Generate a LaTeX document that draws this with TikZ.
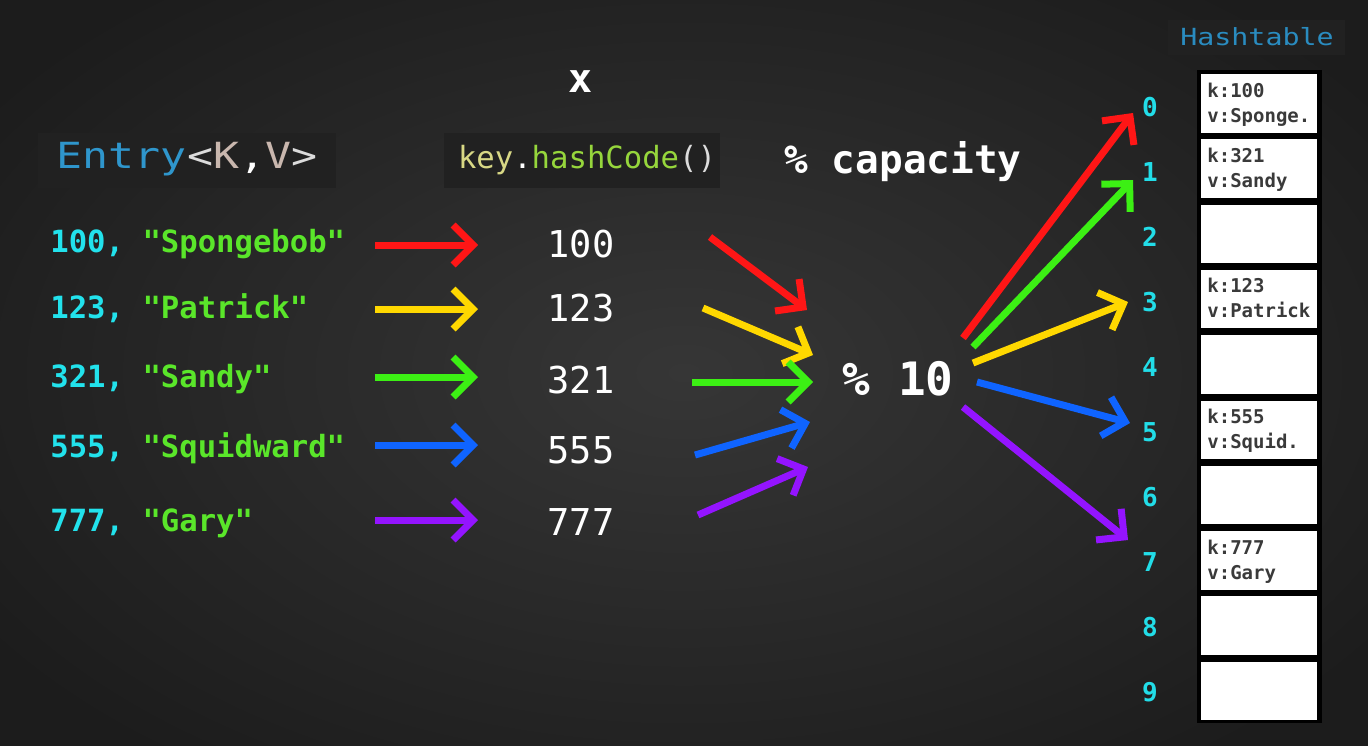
\documentclass[tikz,border=0pt]{standalone}
\usepackage{fontspec}
\usetikzlibrary{arrows.meta}
\newfontfamily\mono{DejaVu Sans Mono}
\newfontfamily\monowide[FakeStretch=1.2]{DejaVu Sans Mono}
\definecolor{bgin}{HTML}{363636}
\definecolor{bgout}{HTML}{1c1c1c}
\definecolor{boxbg}{HTML}{212121}
\definecolor{entryblue}{HTML}{2F96CC}
\definecolor{kvcol}{HTML}{C9B7AE}
\definecolor{brk}{HTML}{DCDCDC}
\definecolor{keyyel}{HTML}{D8D885}
\definecolor{hashgrn}{HTML}{96D63C}
\definecolor{keycyan}{HTML}{22E2EC}
\definecolor{strgrn}{HTML}{5AE62A}
\definecolor{idxcyan}{HTML}{22DDE8}
\definecolor{celltext}{HTML}{3A3A3A}
\definecolor{htblue}{HTML}{2A8CC0}
\definecolor{ared}{HTML}{FF1616}
\definecolor{ayel}{HTML}{FFD800}
\definecolor{agrn}{HTML}{3CF014}
\definecolor{ablu}{HTML}{0F64FF}
\definecolor{apur}{HTML}{9414FF}
\begin{document}
\begin{tikzpicture}[x=0.5pt,y=-0.5pt,
  arr/.style={line width=3.5pt,-{Straight Barb[sharp,length=10pt,width=20pt]}},
  rowtxt/.style={anchor=base west,inner sep=0pt,font=\mono\bfseries\fontsize{15.3}{18}\selectfont},
  numtxt/.style={anchor=base,inner sep=0pt,text=white,font=\mono\fontsize{18.5}{22}\selectfont},
  idxtxt/.style={anchor=base,inner sep=0pt,text=idxcyan,font=\mono\bfseries\fontsize{13}{15}\selectfont},
  cellbox/.style={fill=white,draw=none,minimum width=58pt,minimum height=29.25pt,inner sep=0pt},
  celltxt/.style={anchor=base west,inner sep=0pt,text=celltext,font=\mono\bfseries\fontsize{9.5}{11}\selectfont},
  codebox/.style={fill=boxbg,inner sep=0pt,minimum height=27.5pt}
]
\useasboundingbox (0,0) rectangle (1368,745);
\shade[inner color=bgin,outer color=bgout] (-150,-120) rectangle (1518,865);

% headers
\node[codebox,minimum width=149pt] (entrybox) at (187,160) {};
\node[anchor=base,inner sep=0pt,font=\monowide\fontsize{18}{20}\selectfont] (entry) at (187,168)
  {\color{entryblue}Entry\color{brk}<\color{kvcol}K\color{white},\color{kvcol}V\color{brk}>};
\node[codebox,minimum width=138pt] (hashbox) at (582,160) {};
\node[anchor=base,inner sep=0pt,font=\mono\fontsize{15.3}{18}\selectfont] (hash) at (587,168)
  {\color{keyyel}key\color{white}.\color{hashgrn}hashCode\color{brk}()};
\node[anchor=base,inner sep=0pt,text=white,font=\mono\bfseries\fontsize{20}{22}\selectfont] (times) at (581,92) {x};
\node[anchor=base,inner sep=0pt,text=white,font=\mono\bfseries\fontsize{19.7}{22}\selectfont] (cap) at (903,173) {\% capacity};
\node[anchor=base,inner sep=0pt,text=white,font=\mono\bfseries\fontsize{23}{26}\selectfont] (mod) at (898,395) {\% 10};

% entries
\node[rowtxt] (r1) at (50,252) {\color{keycyan}100, \color{strgrn}"Spongebob"};
\node[rowtxt] (r2) at (50,318) {\color{keycyan}123, \color{strgrn}"Patrick"};
\node[rowtxt] (r3) at (50,387) {\color{keycyan}321, \color{strgrn}"Sandy"};
\node[rowtxt] (r4) at (50,457) {\color{keycyan}555, \color{strgrn}"Squidward"};
\node[rowtxt] (r5) at (50,531) {\color{keycyan}777, \color{strgrn}"Gary"};

% hash codes
\node[numtxt] (n1) at (581,257) {100};
\node[numtxt] (n2) at (581,321) {123};
\node[numtxt] (n3) at (581,393) {321};
\node[numtxt] (n4) at (581,463) {555};
\node[numtxt] (n5) at (581,535) {777};

% hashtable
\node[codebox,fill=boxbg,minimum width=88.5pt,minimum height=17.5pt] (htbox) at (1256,37) {};
\node[anchor=base,inner sep=0pt,text=htblue,font=\monowide\fontsize{11.8}{14}\selectfont] (ht) at (1257,45) {Hashtable};
\node[fill=black,draw=none,minimum width=62.5pt,minimum height=326.5pt,inner sep=0pt] (table) at (1259.5,396.5) {};
\foreach \i in {0,...,9}{
  \node[cellbox] (c\i) at (1259,{103.25+65.3*\i}) {};
  \node[idxtxt] (i\i) at (1150,{116+65.1*\i}) {\i};
}
\node[celltxt] (k0) at (1207,97) {k:100};
\node[celltxt] (v0) at (1207,122) {v:Sponge.};
\node[celltxt] (k1) at (1207,{97+65.3}) {k:321};
\node[celltxt] (v1) at (1207,{122+65.3}) {v:Sandy};
\node[celltxt] (k3) at (1207,{97+3*65.3}) {k:123};
\node[celltxt] (v3) at (1207,{122+3*65.3}) {v:Patrick};
\node[celltxt] (k5) at (1207,{97+5*65.3}) {k:555};
\node[celltxt] (v5) at (1207,{122+5*65.3}) {v:Squid.};
\node[celltxt] (k7) at (1207,{97+7*65.3}) {k:777};
\node[celltxt] (v7) at (1207,{122+7*65.3}) {v:Gary};

% arrows: entries -> hash codes
\foreach \n/\c/\y in {1/ared/245,2/ayel/309,3/agrn/377,4/ablu/445,5/apur/520}{
  \coordinate (ls\n) at (375,\y);
  \coordinate (le\n) at (478,\y);
  \draw[arr,\c] (ls\n) -- (le\n);
}
% arrows: hash codes -> % 10
\foreach \n/\c/\xa/\ya/\xb/\yb in {1/ared/710/237/807/310,2/ayel/703/308/813/355,3/agrn/692/382/813/382,4/ablu/695/455/810/422,5/apur/698/515/808/467}{
  \coordinate (ms\n) at (\xa,\ya);
  \coordinate (me\n) at (\xb,\yb);
  \draw[arr,\c] (ms\n) -- (me\n);
}
% arrows: % 10 -> buckets
\foreach \n/\c/\xa/\ya/\xb/\yb in {1/ared/963/338/1133/113,3/agrn/973/347/1133/180,2/ayel/973/363/1128/302,4/ablu/977/382/1130/423,5/apur/963/407/1128/540}{
  \coordinate (rs\n) at (\xa,\ya);
  \coordinate (re\n) at (\xb,\yb);
  \draw[arr,\c] (rs\n) -- (re\n);
}
\end{tikzpicture}
\end{document}
